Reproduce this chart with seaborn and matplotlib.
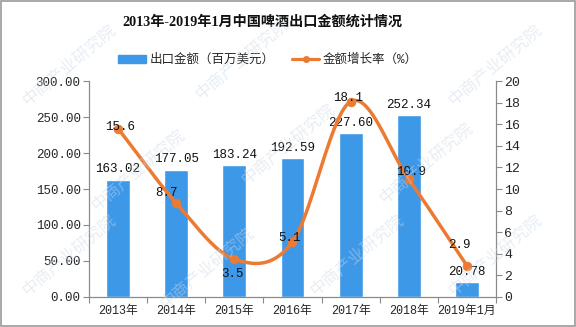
import numpy as np
import pandas as pd
import matplotlib
matplotlib.use('Agg')
import matplotlib.pyplot as plt
import seaborn as sns
from matplotlib.patches import Patch, Rectangle
from matplotlib.lines import Line2D
from matplotlib.ticker import FormatStrFormatter, FixedLocator

categories = ['2013年', '2014年', '2015年', '2016年', '2017年', '2018年', '2019年1月']
export_value = [163.02, 177.05, 183.24, 192.59, 227.60, 252.34, 20.78]
growth_rate = [15.6, 8.7, 3.5, 5.1, 18.1, 10.9, 2.9]
title_text = '2013年-2019年1月中国啤酒出口金额统计情况'
bar_name = '出口金额（百万美元）'
line_name = '金额增长率（%）'
watermark = '中商产业研究院'

sns.set_theme(style='white')
plt.rcParams['font.family'] = ['Liberation Mono', 'Noto Sans CJK SC', 'DejaVu Sans']

BLUE = '#3d98e8'
ORANGE = '#ec7a33'
AXC = '#8a8a8a'

fig = plt.figure(figsize=(5.76, 3.27), dpi=100)
fig.patch.set_facecolor('white')
ax = fig.add_axes([0.1545, 0.092, 0.7065, 0.66])

df = pd.DataFrame({'cat': categories, 'value': export_value})
sns.barplot(data=df, x='cat', y='value', color=BLUE, saturation=1, width=0.41, ax=ax, zorder=2)
ax.set_xlim(-0.5, len(categories) - 0.5)
ax.set_ylim(0, 300)
ax.set_yticks(np.arange(0, 301, 50))
ax.yaxis.set_major_formatter(FormatStrFormatter('%.2f'))
ax.set_xlabel('')
ax.set_ylabel('')
ax.bar_label(ax.containers[0], fmt='%.2f', padding=3, fontsize=9, color='#111111')

# Catmull-Rom smoothing of the growth line (Excel-style smoothed line)
g = np.array(growth_rate, dtype=float)
n = len(g)
xs, ys = [], []
for i in range(n - 1):
    p0 = g[max(i - 1, 0)]
    p1 = g[i]
    p2 = g[i + 1]
    p3 = g[min(i + 2, n - 1)]
    m1 = (p2 - p0) / (2 if i > 0 else 1)
    m2 = (p3 - p1) / (2 if i + 2 <= n - 1 else 1)
    t = np.linspace(0, 1, 40)
    h00 = 2 * t**3 - 3 * t**2 + 1
    h10 = t**3 - 2 * t**2 + t
    h01 = -2 * t**3 + 3 * t**2
    h11 = t**3 - t**2
    xs.extend(i + t)
    ys.extend(h00 * p1 + h10 * m1 + h01 * p2 + h11 * m2)

ax2 = ax.twinx()
sns.lineplot(x=xs, y=ys, ax=ax2, color=ORANGE, linewidth=2.5, sort=False, estimator=None, zorder=3)
sns.scatterplot(x=np.arange(n), y=growth_rate, ax=ax2, color=ORANGE, s=40, edgecolor=ORANGE, zorder=4)
ax2.set_ylim(0, 20)
ax2.set_yticks(np.arange(0, 21, 2))
ax2.set_xlim(-0.5, n - 0.5)

label_offsets = [(2, 2), (-10, 10), (-2, -15), (-3, 4), (-2, 4), (2, 7), (-7, 21)]
for i, v in enumerate(growth_rate):
    ax2.annotate(f'{v}', (i, v), xytext=label_offsets[i], textcoords='offset pixels',
                 ha='center', va='center', fontsize=9, color='#111111', zorder=5)

# axes styling
for a in (ax, ax2):
    a.spines['top'].set_visible(False)
    for s in ('left', 'right', 'bottom'):
        a.spines[s].set_color(AXC)
        a.spines[s].set_linewidth(0.9)
    a.grid(False)
ax.spines['right'].set_visible(False)
ax2.spines['left'].set_visible(False)
ax2.spines['bottom'].set_visible(False)

ax.tick_params(axis='y', direction='out', length=4, width=0.8, color=AXC, labelsize=9, pad=2, left=True)
ax2.tick_params(axis='y', direction='out', length=4, width=0.8, color=AXC, labelsize=9.5, pad=2, right=True)
ax.tick_params(axis='x', which='major', length=0, labelsize=8.5, pad=6)
ax.xaxis.set_minor_locator(FixedLocator(np.arange(-0.5, n, 1.0)))
ax.tick_params(axis='x', which='minor', direction='out', length=4, width=0.8, color=AXC, bottom=True)
ax2.set_ylabel('')

# title & legend
fig.text(262 / 576, 1 - 22 / 327, title_text, ha='center', va='center', fontsize=10.2, fontweight='bold',
         family=['Liberation Serif', 'Noto Sans CJK SC'], color='#111111')
handles = [Patch(facecolor=BLUE, edgecolor=BLUE),
           Line2D([0], [0], color=ORANGE, lw=2.3, marker='o', markersize=4)]
fig.legend(handles, [bar_name, line_name], ncol=2, loc='center', bbox_to_anchor=(268 / 576, 1 - 60 / 327),
           frameon=False, fontsize=9, handlelength=2.2, handleheight=0.6, columnspacing=1.4,
           handletextpad=0.3)

# faint watermarks (kept fully inside the figure)
wm_pos = [(0.12, 0.80), (0.42, 0.82), (0.86, 0.80), (0.24, 0.48), (0.50, 0.56),
          (0.74, 0.50), (0.12, 0.22), (0.36, 0.18), (0.62, 0.22), (0.86, 0.22)]
for (x, y) in wm_pos:
    fig.text(x, y, watermark, rotation=40, ha='center', va='center', fontsize=12,
             color='#c9d9e8', alpha=0.45, zorder=10, family=['Noto Sans CJK SC'])

fig.patches.append(Rectangle((0.001, 0.002), 0.997, 0.995, transform=fig.transFigure,
                             fill=False, edgecolor='#9a9a9a', linewidth=1.2))

fig.savefig('out.png', dpi=100)
